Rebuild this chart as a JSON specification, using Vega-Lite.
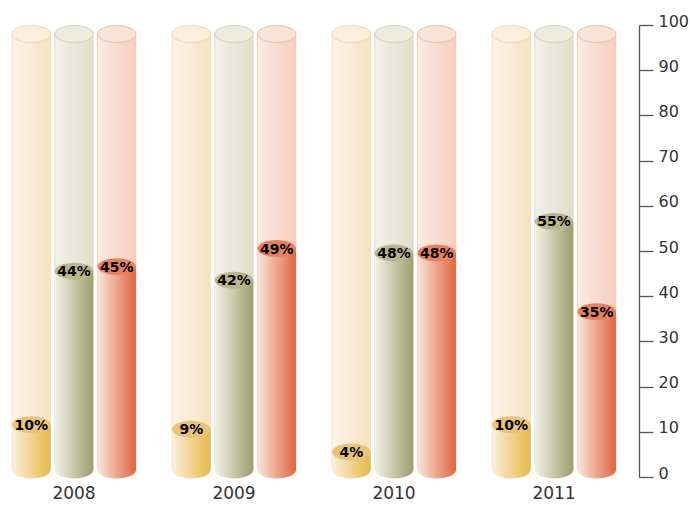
{
  "$schema": "https://vega.github.io/schema/vega-lite/v6.json",
  "width": 628,
  "height": 452,
  "autosize": {"type": "none"},
  "padding": {"left": 0, "top": 25, "right": 62, "bottom": 28},
  "background": "white",
  "config": {"view": {"stroke": null}, "font": "DejaVu Sans"},
  "data": {"values": [
    {"year": "2008", "series": "A", "value": 10},
    {"year": "2008", "series": "B", "value": 44},
    {"year": "2008", "series": "C", "value": 45},
    {"year": "2009", "series": "A", "value": 9},
    {"year": "2009", "series": "B", "value": 42},
    {"year": "2009", "series": "C", "value": 49},
    {"year": "2010", "series": "A", "value": 4},
    {"year": "2010", "series": "B", "value": 48},
    {"year": "2010", "series": "C", "value": 48},
    {"year": "2011", "series": "A", "value": 10},
    {"year": "2011", "series": "B", "value": 55},
    {"year": "2011", "series": "C", "value": 35}
  ]},
  "transform": [{"calculate": "datum.value + '%'", "as": "label"}],
  "encoding": {
    "x": {"field": "year", "type": "nominal",
      "scale": {"paddingInner": 0.1875, "paddingOuter": 0.05625},
      "axis": {"title": null, "domain": false, "ticks": false, "labelFontSize": 17, "labelColor": "#333", "labelPadding": 8, "labelAngle": 0, "labelFont": "DejaVu Sans"}},
    "xOffset": {"field": "series", "type": "nominal", "scale": {"paddingInner": 0.098, "paddingOuter": 0.071}},
    "y": {"field": "value", "type": "quantitative",
      "scale": {"domain": [0, 100], "nice": false},
      "axis": {"orient": "right", "offset": 11, "values": [0,10,20,30,40,50,60,70,80,90,100], "title": null, "grid": false,
        "domainColor": "#555", "domainWidth": 1.3, "tickColor": "#555", "tickWidth": 1.3, "tickSize": 14,
        "labelFontSize": 16, "labelColor": "#333", "labelPadding": 5, "labelBaseline": "alphabetic", "labelOffset": 1,
        "labelFlush": false, "labelOverlap": false, "labelFont": "DejaVu Sans"}}
  },
  "layer": [
    {
      "mark": {"type": "bar", "yOffset": 9, "y2Offset": -7, "strokeWidth": 0.8},
      "encoding": {
        "y": {"datum": 100, "type": "quantitative",
          "axis": {"orient": "right", "offset": 11, "values": [0,10,20,30,40,50,60,70,80,90,100], "title": null, "grid": false,
            "domainColor": "#555", "domainWidth": 1.3, "tickColor": "#555", "tickWidth": 1.3, "tickSize": 14,
            "labelFontSize": 16, "labelColor": "#333", "labelPadding": 5, "labelBaseline": "alphabetic", "labelOffset": 1,
            "labelFlush": false, "labelOverlap": false, "labelFont": "DejaVu Sans"}},
        "y2": {"datum": 0},
        "fill": {"condition": [
          {"test": "datum.series === 'A'", "value": {"gradient": "linear", "x1": 0, "x2": 1, "y1": 0, "y2": 0, "stops": [{"offset": 0, "color": "#fcf4e8"}, {"offset": 1, "color": "#f6e2c0"}]}},
          {"test": "datum.series === 'B'", "value": {"gradient": "linear", "x1": 0, "x2": 1, "y1": 0, "y2": 0, "stops": [{"offset": 0, "color": "#f1f1ea"}, {"offset": 1, "color": "#e0decb"}]}}],
          "value": {"gradient": "linear", "x1": 0, "x2": 1, "y1": 0, "y2": 0, "stops": [{"offset": 0, "color": "#fbebe4"}, {"offset": 1, "color": "#f5cdbd"}]}},
        "stroke": {"condition": [
          {"test": "datum.series === 'A'", "value": "#f4e0bb"},
          {"test": "datum.series === 'B'", "value": "#dcdac6"}],
          "value": "#f3c9b8"}
      }
    },
    {
      "mark": {"type": "point", "filled": true, "opacity": 1, "size": 1482, "yOffset": 9, "strokeWidth": 1,
        "shape": "M-1,0A1,0.44,0,1,0,1,0A1,0.44,0,1,0,-1,0Z"},
      "encoding": {
        "y": {"datum": 100, "type": "quantitative",
          "axis": {"orient": "right", "offset": 11, "values": [0,10,20,30,40,50,60,70,80,90,100], "title": null, "grid": false,
            "domainColor": "#555", "domainWidth": 1.3, "tickColor": "#555", "tickWidth": 1.3, "tickSize": 14,
            "labelFontSize": 16, "labelColor": "#333", "labelPadding": 5, "labelBaseline": "alphabetic", "labelOffset": 1,
            "labelFlush": false, "labelOverlap": false, "labelFont": "DejaVu Sans"}},
        "fill": {"condition": [
          {"test": "datum.series === 'A'", "value": "#fbf0de"},
          {"test": "datum.series === 'B'", "value": "#ebebe0"}],
          "value": "#f9e2d8"},
        "stroke": {"condition": [
          {"test": "datum.series === 'A'", "value": "#f0d7a4"},
          {"test": "datum.series === 'B'", "value": "#d3d1b7"}],
          "value": "#efbba7"}
      }
    },
    {
      "mark": {"type": "bar", "yOffset": -7, "y2Offset": -7},
      "encoding": {
        "y2": {"datum": 0},
        "fill": {"condition": [
          {"test": "datum.series === 'A'", "value": {"gradient": "linear", "x1": 0, "x2": 1, "y1": 0, "y2": 0, "stops": [{"offset": 0, "color": "#f9efdd"}, {"offset": 1, "color": "#e8b746"}]}},
          {"test": "datum.series === 'B'", "value": {"gradient": "linear", "x1": 0, "x2": 1, "y1": 0, "y2": 0, "stops": [{"offset": 0, "color": "#f1f1e8"}, {"offset": 1, "color": "#9d9f6b"}]}}],
          "value": {"gradient": "linear", "x1": 0, "x2": 1, "y1": 0, "y2": 0, "stops": [{"offset": 0, "color": "#fae3da"}, {"offset": 1, "color": "#e06740"}]}}
      }
    },
    {
      "mark": {"type": "point", "filled": true, "opacity": 1, "size": 1482, "yOffset": -7, "strokeWidth": 0,
        "shape": "M-1,0A1,0.44,0,1,0,1,0A1,0.44,0,1,0,-1,0Z"},
      "encoding": {
        "y": {"datum": 0, "type": "quantitative",
          "axis": {"orient": "right", "offset": 11, "values": [0,10,20,30,40,50,60,70,80,90,100], "title": null, "grid": false,
            "domainColor": "#555", "domainWidth": 1.3, "tickColor": "#555", "tickWidth": 1.3, "tickSize": 14,
            "labelFontSize": 16, "labelColor": "#333", "labelPadding": 5, "labelBaseline": "alphabetic", "labelOffset": 1,
            "labelFlush": false, "labelOverlap": false, "labelFont": "DejaVu Sans"}},
        "fill": {"condition": [
          {"test": "datum.series === 'A'", "value": {"gradient": "linear", "x1": 0, "x2": 1, "y1": 0, "y2": 0, "stops": [{"offset": 0, "color": "#f9efdd"}, {"offset": 1, "color": "#e8b746"}]}},
          {"test": "datum.series === 'B'", "value": {"gradient": "linear", "x1": 0, "x2": 1, "y1": 0, "y2": 0, "stops": [{"offset": 0, "color": "#f1f1e8"}, {"offset": 1, "color": "#9d9f6b"}]}}],
          "value": {"gradient": "linear", "x1": 0, "x2": 1, "y1": 0, "y2": 0, "stops": [{"offset": 0, "color": "#fae3da"}, {"offset": 1, "color": "#e06740"}]}}
      }
    },
    {
      "mark": {"type": "point", "filled": true, "opacity": 1, "size": 1482, "yOffset": -7, "strokeWidth": 0,
        "shape": "M-1,0A1,0.44,0,1,0,1,0A1,0.44,0,1,0,-1,0Z"},
      "encoding": {
        "fill": {"condition": [
          {"test": "datum.series === 'A'", "value": "#e9c37c"},
          {"test": "datum.series === 'B'", "value": "#bab78e"}],
          "value": "#e5815f"}
      }
    },
    {
      "mark": {"type": "text", "yOffset": -7, "dy": 1, "baseline": "middle", "align": "center", "font": "DejaVu Sans", "fontWeight": "bold", "fontSize": 14, "color": "#000"},
      "encoding": {
        "text": {"field": "label", "type": "nominal"}
      }
    }
  ]
}
